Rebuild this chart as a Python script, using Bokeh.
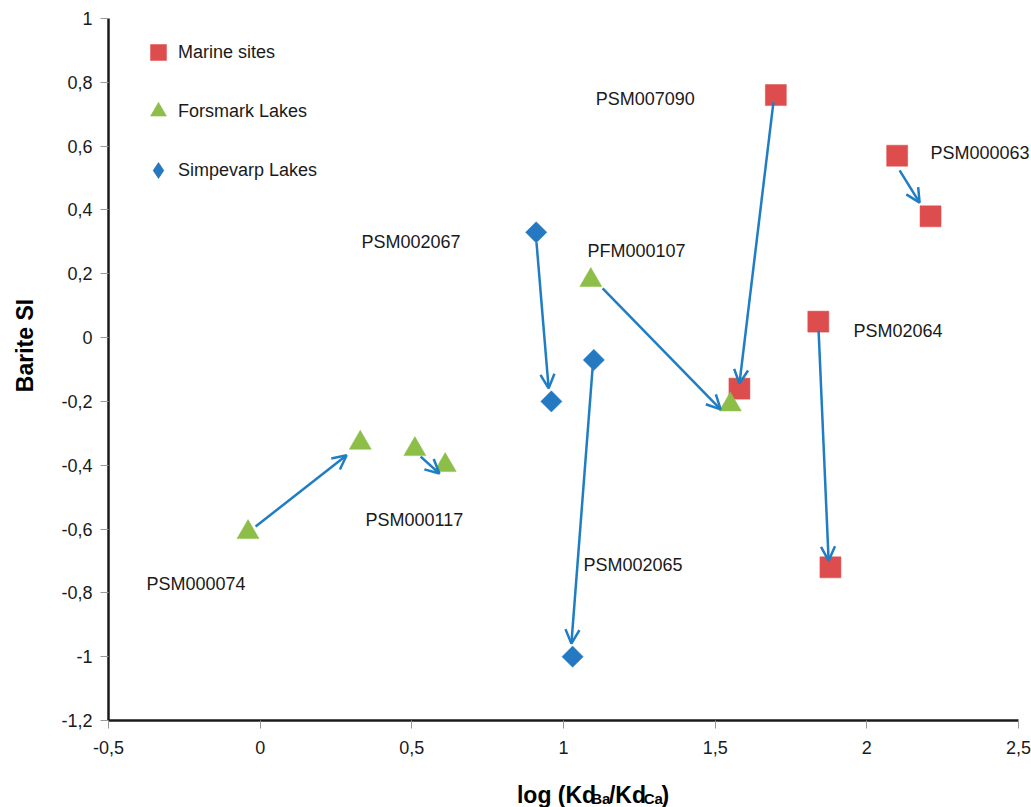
import numpy as np
from bokeh.plotting import figure
from bokeh.layouts import row, column
from bokeh.models import (Range1d, FixedTicker, ColumnDataSource, Arrow, OpenHead,
                          LabelSet, Legend, LegendItem)
from bokeh.core.properties import value
from bokeh.embed import file_html
from bokeh.resources import INLINE

# ---- data ----
marine_x = [1.70, 1.58, 2.10, 2.21, 1.84, 1.88]
marine_y = [0.76, -0.16, 0.57, 0.38, 0.05, -0.72]
forsmark_x = [-0.04, 0.33, 0.51, 0.61, 1.09, 1.55]
forsmark_y = [-0.61, -0.33, -0.35, -0.40, 0.18, -0.21]
simpevarp_x = [0.91, 0.96, 1.10, 1.03]
simpevarp_y = [0.33, -0.20, -0.07, -1.00]

arrow_x_start = [-0.015, 0.529, 0.911, 1.129, 1.096, 1.692, 2.108, 1.841]
arrow_y_start = [-0.592, -0.373, 0.298, 0.154, -0.094, 0.737, 0.524, 0.022]
arrow_x_end = [0.285, 0.591, 0.951, 1.518, 1.026, 1.580, 2.174, 1.874]
arrow_y_end = [-0.369, -0.426, -0.159, -0.225, -0.959, -0.144, 0.423, -0.699]

label_text = ["PSM007090", "PSM000063", "PSM002067", "PFM000107",
              "PSM02064", "PSM000117", "PSM000074", "PSM002065"]
label_x = [1.106, 2.210, 0.334, 1.079, 1.956, 0.347, -0.375, 1.066]
label_y = [0.749, 0.580, 0.301, 0.270, 0.022, -0.573, -0.771, -0.714]

series_names = ["Marine sites", "Forsmark Lakes", "Simpevarp Lakes"]

x_ticks = [-0.5, 0.0, 0.5, 1.0, 1.5, 2.0, 2.5]
x_tick_labels = ["-0,5", "0", "0,5", "1", "1,5", "2", "2,5"]
y_ticks = [-1.2, -1.0, -0.8, -0.6, -0.4, -0.2, 0.0, 0.2, 0.4, 0.6, 0.8, 1.0]
y_tick_labels = ["-1,2", "-1", "-0,8", "-0,6", "-0,4", "-0,2", "0",
                 "0,2", "0,4", "0,6", "0,8", "1"]

RED = "#DE4D4D"
GREEN = "#8CBE48"
BLUE = "#2479C1"
ARROW = "#1F7DC4"
TXT = "#1a1a1a"
FONT = "Liberation Sans"

W, H = 1031, 807
LEFT_W = 48       # strip holding the y-axis title
BOTTOM_H = 37     # strip holding the x-axis title
PX_PER_UNIT = 303.33

p = figure(width=W - LEFT_W, height=H - BOTTOM_H, output_backend="svg",
           toolbar_location=None, title=None,
           x_range=Range1d(-0.5, 2.5 + 13 / PX_PER_UNIT), y_range=Range1d(-1.2, 1.0),
           min_border_left=108 - LEFT_W, min_border_right=0, min_border_top=18,
           min_border_bottom=50)
p.grid.visible = False
p.outline_line_color = None
p.xaxis.bounds = (-0.5, 2.5)

for ax, ticks, labels in ((p.xaxis[0], x_ticks, x_tick_labels),
                          (p.yaxis[0], y_ticks, y_tick_labels)):
    ax.ticker = FixedTicker(ticks=ticks)
    ax.major_label_overrides = {t: l for t, l in zip(ticks, labels)}
    ax.axis_line_color = TXT
    ax.axis_line_width = 2.5
    ax.major_tick_line_color = "#999999"
    ax.major_tick_line_width = 1
    ax.major_tick_out = 8
    ax.major_tick_in = 0
    ax.minor_tick_line_color = None
    ax.major_label_text_font = FONT
    ax.major_label_text_font_size = "18px"
    ax.major_label_text_color = TXT
p.yaxis[0].major_label_standoff = 8
p.xaxis[0].major_label_standoff = 12

r_marine = p.scatter(marine_x, marine_y, marker="square", size=21,
                     fill_color=RED, line_color=RED, line_width=0.5)
r_fors = p.scatter(forsmark_x, forsmark_y, marker="triangle", size=22,
                   fill_color=GREEN, line_color=GREEN, line_width=0.5)
r_simp = p.scatter(simpevarp_x, simpevarp_y, marker="square", size=15, angle=np.pi / 4,
                   fill_color=BLUE, line_color=BLUE, line_width=0.5)
# legend stand-in for the diamonds (legend glyphs ignore marker angle); NaN = not drawn
r_simp_leg = p.scatter([np.nan], [np.nan], marker="diamond", size=16,
                       fill_color=BLUE, line_color="#1b5f93", line_width=0.5)

arrow_src = ColumnDataSource(dict(x0=arrow_x_start, y0=arrow_y_start,
                                  x1=arrow_x_end, y1=arrow_y_end))
p.add_layout(Arrow(end=OpenHead(size=14, line_color=ARROW, line_width=2.5),
                   source=arrow_src, x_start="x0", y_start="y0", x_end="x1", y_end="y1",
                   line_color=ARROW, line_width=2.5))

lab_src = ColumnDataSource(dict(x=label_x, y=label_y, t=label_text))
p.add_layout(LabelSet(x="x", y="y", text="t", source=lab_src,
                      text_font=value(FONT), text_font_size="18px",
                      text_color=TXT, text_align="left", text_baseline="middle"))

legend = Legend(items=[LegendItem(label=series_names[0], renderers=[r_marine]),
                       LegendItem(label=series_names[1], renderers=[r_fors]),
                       LegendItem(label=series_names[2], renderers=[r_simp_leg])],
                location=(30, 530), glyph_width=40, glyph_height=40, spacing=19,
                padding=0, margin=0, label_standoff=0,
                border_line_color=None, background_fill_alpha=0,
                label_text_font=FONT, label_text_font_size="18px",
                label_text_color=TXT)
p.add_layout(legend)


def strip(width, height, xr, yr):
    f = figure(width=width, height=height, output_backend="svg", toolbar_location=None,
               title=None, x_range=Range1d(*xr), y_range=Range1d(*yr),
               x_axis_type=None, y_axis_type=None, min_border=0,
               min_border_left=0, min_border_right=0, min_border_top=0,
               min_border_bottom=0)
    f.grid.visible = False
    f.outline_line_color = None
    return f


# y-axis title strip (coordinates are page pixels, y downward)
pl = strip(LEFT_W, H, (0, LEFT_W), (H, 0))
pl.text(x=[24], y=[345], text=["Barite SI"], angle=np.pi / 2,
        text_font=value(FONT), text_font_style="bold", text_font_size="23px",
        text_color="black", text_align="center", text_baseline="middle")

# x-axis title strip: log (Kd_Ba / Kd_Ca)
pb = strip(W - LEFT_W, BOTTOM_H, (LEFT_W, W), (H, H - BOTTOM_H))
title_main = ["log (Kd", "/Kd", ")"]
title_main_x = [483, 581, 637]
title_sub = ["Ba", "Ca"]
title_sub_x = [562, 618]
pb.text(x=title_main_x, y=[794] * 3, text=title_main,
        text_font=value(FONT), text_font_style="bold", text_font_size="23px",
        text_color="black", text_align="left", text_baseline="alphabetic")
pb.text(x=title_sub_x, y=[798] * 2, text=title_sub,
        text_font=value(FONT), text_font_style="bold", text_font_size="15px",
        text_color="black", text_align="left", text_baseline="alphabetic")

layout = row(pl, column(p, pb, spacing=0), spacing=0)
open("out.html", "w").write(file_html(layout, INLINE))
